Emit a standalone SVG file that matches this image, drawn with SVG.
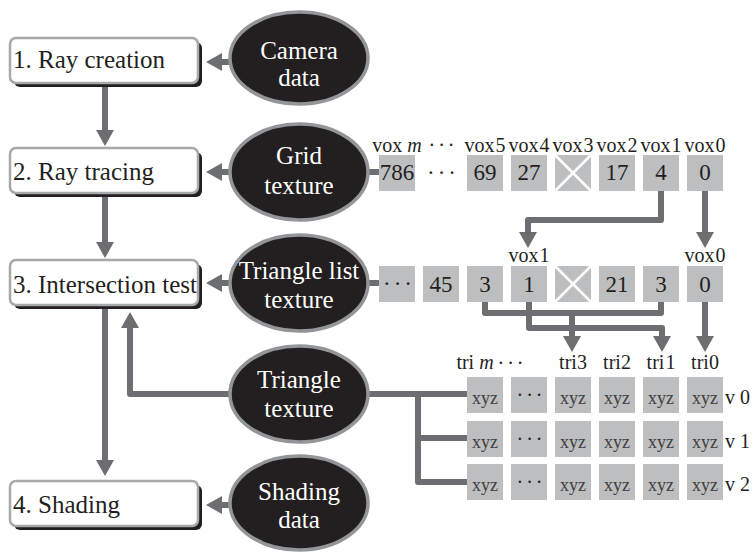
<svg xmlns="http://www.w3.org/2000/svg" width="753" height="553" viewBox="0 0 753 553">
<defs>
<marker id="ah" markerUnits="userSpaceOnUse" markerWidth="16" markerHeight="18" viewBox="0 0 16 18" refX="1" refY="9" orient="auto"><path d="M0,0 L16,9 L0,18 z" fill="#6d6e71"/></marker>
</defs>
<style>
.t{font-family:"Liberation Serif","Times New Roman",serif;fill:#231f20}
.big{font-size:25px}
.w{fill:#ffffff}
.box{fill:#ffffff;stroke:#a7a9ac;stroke-width:2.5}
.sh{fill:#231f20}
.ell{fill:#231f20;stroke:#939598;stroke-width:3.5}
.c{fill:#bcbec0}
.x{stroke:#ffffff;stroke-width:2.5}
.con{fill:none;stroke:#6d6e71;stroke-width:6;stroke-linejoin:round}
.arr{marker-end:url(#ah)}
.lab{font-size:20px}
.num{font-size:23px}
.xyz{font-size:18px;fill:#414042}
.dots{letter-spacing:3px}
.m{text-anchor:middle}
</style>
<rect width="753" height="553" fill="#ffffff"/>

<g id="connectors">
<path class="con arr" d="M105,87 V131"/>
<path class="con arr" d="M105,197 V243"/>
<path class="con arr" d="M105,309 V461"/>
<path class="con arr" d="M229,62 H221"/>
<path class="con arr" d="M229,172 H221"/>
<path class="con arr" d="M229,283 H221"/>
<path class="con arr" d="M229,505 H221"/>
<path class="con arr" d="M229,394 H130 V327"/>
<path class="con" d="M369,172 H379"/>
<path class="con" d="M367,283 H379"/>
<path class="con" d="M368,394 H467"/>
<path class="con" d="M418,394 V482 H467"/>
<path class="con" d="M418,438 H467"/>
<path class="con arr" d="M661,191 V220 H528 V233"/>
<path class="con arr" d="M705,191 V233"/>
<path class="con" d="M485,302 V313 H661 V302"/>
<path class="con arr" d="M572,313 V337"/>
<path class="con arr" d="M529,302 V328 H662 V337"/>
<path class="con arr" d="M705,302 V337"/>
</g>

<g id="ray-creation"><rect class="sh" x="14" y="42" width="188" height="45" rx="6"/><rect class="box" x="10" y="38" width="188" height="45" rx="6"/><text class="t big" x="13" y="68">1. Ray creation</text></g>
<g id="ray-tracing"><rect class="sh" x="14" y="152" width="188" height="45" rx="6"/><rect class="box" x="10" y="148" width="188" height="45" rx="6"/><text class="t big" x="13" y="180">2. Ray tracing</text></g>
<g id="intersection-test"><rect class="sh" x="14" y="264" width="188" height="45" rx="6"/><rect class="box" x="10" y="260" width="188" height="45" rx="6"/><text class="t big" x="13" y="293">3. Intersection test</text></g>
<g id="shading"><rect class="sh" x="14" y="485" width="188" height="45" rx="6"/><rect class="box" x="10" y="481" width="188" height="45" rx="6"/><text class="t big" x="13" y="513">4. Shading</text></g>

<g id="camera-data"><ellipse class="ell" cx="299" cy="58" rx="69" ry="46"/><text class="t big w m" x="299" y="59">Camera</text><text class="t big w m" x="299" y="86">data</text></g>
<g id="grid-texture"><ellipse class="ell" cx="299" cy="172" rx="69" ry="48"/><text class="t big w m" x="299" y="164">Grid</text><text class="t big w m" x="299" y="194">texture</text></g>
<g id="triangle-list-texture"><ellipse class="ell" cx="299" cy="283" rx="69" ry="48"/><text class="t big w m" x="299" y="279">Triangle list</text><text class="t big w m" x="299" y="308">texture</text></g>
<g id="triangle-texture"><ellipse class="ell" cx="299" cy="394" rx="69" ry="48"/><text class="t big w m" x="299" y="388">Triangle</text><text class="t big w m" x="299" y="417">texture</text></g>
<g id="shading-data"><ellipse class="ell" cx="299" cy="503" rx="69" ry="47"/><text class="t big w m" x="299" y="500">Shading</text><text class="t big w m" x="299" y="528">data</text></g>

<g id="grid-cells">
<text class="t lab m" x="397" y="152">vox <tspan font-style="italic">m</tspan></text>
<text class="t lab m dots" x="443" y="152">···</text>
<text class="t lab m" x="485" y="152">vox<tspan dx="1">5</tspan></text>
<text class="t lab m" x="529" y="152">vox<tspan dx="1">4</tspan></text>
<text class="t lab m" x="573" y="152">vox<tspan dx="1">3</tspan></text>
<text class="t lab m" x="617" y="152">vox<tspan dx="1">2</tspan></text>
<text class="t lab m" x="661" y="152">vox<tspan dx="1">1</tspan></text>
<text class="t lab m" x="705" y="152">vox<tspan dx="1">0</tspan></text>
<rect class="c" x="379" y="155" width="36" height="36"/>
<rect class="c" x="467" y="155" width="36" height="36"/>
<rect class="c" x="511" y="155" width="36" height="36"/>
<rect class="c" x="555" y="155" width="36" height="36"/>
<path class="x" d="M555,155 L591,191 M591,155 L555,191"/>
<rect class="c" x="599" y="155" width="36" height="36"/>
<rect class="c" x="643" y="155" width="36" height="36"/>
<rect class="c" x="687" y="155" width="36" height="36"/>
<text class="t num m" x="397" y="180">786</text>
<text class="t num m dots" x="443" y="180">···</text>
<text class="t num m" x="485" y="180">69</text>
<text class="t num m" x="529" y="180">27</text>
<text class="t num m" x="617" y="180">17</text>
<text class="t num m" x="661" y="180">4</text>
<text class="t num m" x="705" y="180">0</text>
</g>

<g id="triangle-list-cells">
<text class="t lab m" x="529" y="262">vox<tspan dx="1">1</tspan></text>
<text class="t lab m" x="705" y="262">vox<tspan dx="1">0</tspan></text>
<rect class="c" x="379" y="266" width="36" height="36"/>
<rect class="c" x="423" y="266" width="36" height="36"/>
<rect class="c" x="467" y="266" width="36" height="36"/>
<rect class="c" x="511" y="266" width="36" height="36"/>
<rect class="c" x="555" y="266" width="36" height="36"/>
<path class="x" d="M555,266 L591,302 M591,266 L555,302"/>
<rect class="c" x="599" y="266" width="36" height="36"/>
<rect class="c" x="643" y="266" width="36" height="36"/>
<rect class="c" x="687" y="266" width="36" height="36"/>
<text class="t num m dots" x="399" y="291">···</text>
<text class="t num m" x="441" y="292">45</text>
<text class="t num m" x="485" y="292">3</text>
<text class="t num m" x="529" y="292">1</text>
<text class="t num m" x="617" y="292">21</text>
<text class="t num m" x="661" y="292">3</text>
<text class="t num m" x="705" y="292">0</text>
</g>

<g id="triangle-cells">
<text class="t lab m" x="475" y="369">tri <tspan font-style="italic">m</tspan></text>
<text class="t lab m dots" x="512" y="370">···</text>
<text class="t lab m" x="573" y="369">tri3</text>
<text class="t lab m" x="617" y="369">tri2</text>
<text class="t lab m" x="661" y="369">tri<tspan dx="1">1</tspan></text>
<text class="t lab m" x="705" y="369">tri0</text>
<g>
<rect class="c" x="467" y="377" width="36" height="36"/><rect class="c" x="511" y="377" width="36" height="36"/><rect class="c" x="555" y="377" width="36" height="36"/><rect class="c" x="599" y="377" width="36" height="36"/><rect class="c" x="643" y="377" width="36" height="36"/><rect class="c" x="687" y="377" width="36" height="36"/>
<text class="t xyz m" x="485" y="404">xyz</text><text class="t lab m dots" x="531" y="402">···</text><text class="t xyz m" x="573" y="404">xyz</text><text class="t xyz m" x="617" y="404">xyz</text><text class="t xyz m" x="661" y="404">xyz</text><text class="t xyz m" x="705" y="404">xyz</text>
<text class="t lab" x="725" y="404" font-size="22">v 0</text>
</g>
<g>
<rect class="c" x="467" y="421" width="36" height="36"/><rect class="c" x="511" y="421" width="36" height="36"/><rect class="c" x="555" y="421" width="36" height="36"/><rect class="c" x="599" y="421" width="36" height="36"/><rect class="c" x="643" y="421" width="36" height="36"/><rect class="c" x="687" y="421" width="36" height="36"/>
<text class="t xyz m" x="485" y="448">xyz</text><text class="t lab m dots" x="531" y="446">···</text><text class="t xyz m" x="573" y="448">xyz</text><text class="t xyz m" x="617" y="448">xyz</text><text class="t xyz m" x="661" y="448">xyz</text><text class="t xyz m" x="705" y="448">xyz</text>
<text class="t lab" x="725" y="448" font-size="22">v 1</text>
</g>
<g>
<rect class="c" x="467" y="464" width="36" height="36"/><rect class="c" x="511" y="464" width="36" height="36"/><rect class="c" x="555" y="464" width="36" height="36"/><rect class="c" x="599" y="464" width="36" height="36"/><rect class="c" x="643" y="464" width="36" height="36"/><rect class="c" x="687" y="464" width="36" height="36"/>
<text class="t xyz m" x="485" y="491">xyz</text><text class="t lab m dots" x="531" y="489">···</text><text class="t xyz m" x="573" y="491">xyz</text><text class="t xyz m" x="617" y="491">xyz</text><text class="t xyz m" x="661" y="491">xyz</text><text class="t xyz m" x="705" y="491">xyz</text>
<text class="t lab" x="725" y="491" font-size="22">v 2</text>
</g>
</g>
</svg>
